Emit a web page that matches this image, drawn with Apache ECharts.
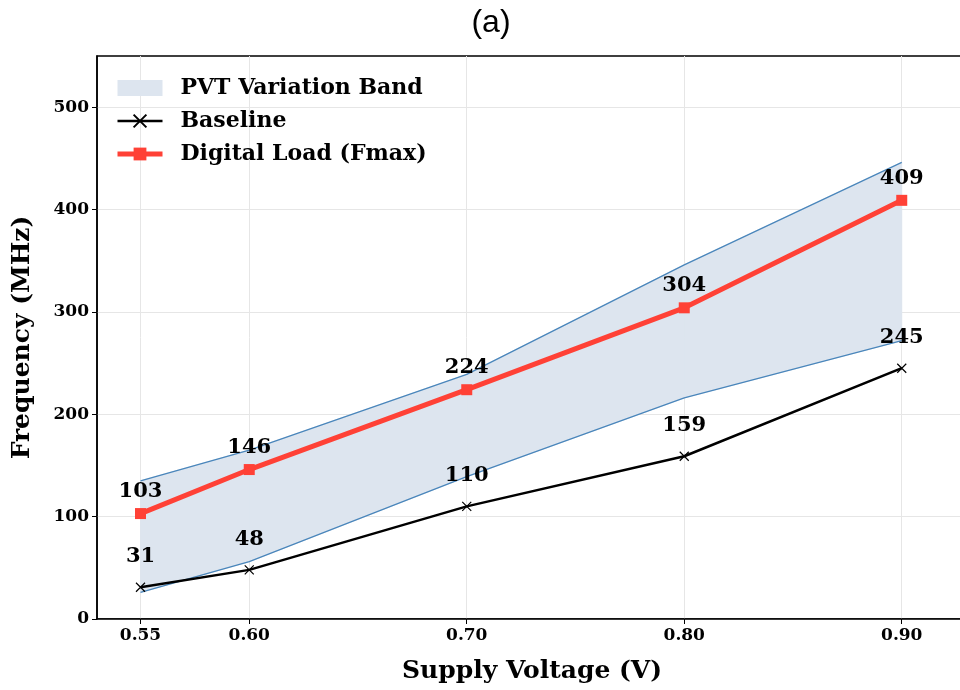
<!DOCTYPE html>
<html>
<head>
<meta charset="utf-8">
<script src="https://cdn.jsdelivr.net/npm/echarts@6/dist/echarts.min.js"></script>
<style>
  html, body { margin: 0; padding: 0; background: #fff; }
  #chart { width: 960px; height: 690px; }
</style>
</head>
<body>
<div id="chart"></div>
<script>
// supply voltage points (V)
var voltages = [0.55, 0.60, 0.70, 0.80, 0.90];
var baseline = [31, 48, 110, 159, 245];
var fmax = [103, 146, 224, 304, 409];
// PVT band edges
var bandLow = [26, 56, 139, 216, 272];
var bandHigh = [135, 165, 239, 346, 446];
var xTicks = [0.55, 0.60, 0.70, 0.80, 0.90];
var yTicks = [0, 100, 200, 300, 400, 500];

var serif = 'DejaVu Serif';
var bandLine = '#4a86bb';
var bandFill = '#dde5ef';

function pairs(ys) {
  var out = [];
  for (var i = 0; i < voltages.length; i++) {
    out.push([voltages[i], ys[i]]);
  }
  return out;
}

// one item per segment: [x0, low0, high0, x1, low1, high1]
var bandSegs = [];
for (var i = 0; i < voltages.length - 1; i++) {
  bandSegs.push([voltages[i], bandLow[i], bandHigh[i], voltages[i + 1], bandLow[i + 1], bandHigh[i + 1]]);
}

function renderBand(params, api) {
  var a = api.coord([api.value(0), api.value(1)]);
  var b = api.coord([api.value(0), api.value(2)]);
  var c = api.coord([api.value(3), api.value(5)]);
  var d = api.coord([api.value(3), api.value(4)]);
  return {
    type: 'polygon',
    shape: { points: [a, b, c, d] },
    style: { fill: bandFill, stroke: bandFill, lineWidth: 0.8 }
  };
}

var xMark = 'path://M0,0L10,10M10,0L0,10';

var myChart = echarts.init(document.getElementById('chart'));
var option = {
  backgroundColor: '#fff',
  animation: false,
  title: {
    text: '(a)',
    left: 486,
    top: 2,
    textAlign: 'center',
    textStyle: { fontFamily: 'Liberation Sans', fontSize: 32, fontWeight: 'normal', color: '#000' }
  },
  legend: {
    orient: 'vertical',
    left: 110,
    top: 72,
    itemWidth: 45,
    itemHeight: 16,
    itemGap: 11,
    textStyle: { fontFamily: serif, fontWeight: 'bold', fontSize: 22, color: '#000', padding: [0, 0, 0, 13] },
    data: [
      { name: 'PVT Variation Band', icon: 'rect', itemStyle: { color: bandFill, borderWidth: 0 } },
      { name: 'Baseline', lineStyle: { width: 2.5, color: '#000' } },
      { name: 'Digital Load (Fmax)', lineStyle: { width: 5, color: '#ff4136' } }
    ]
  },
  // right edge of the box falls just off the canvas, like the reference
  grid: {
    left: 97, right: -7, top: 56, bottom: 71, outerBoundsMode: 'none',
    show: true, borderColor: '#000', borderWidth: 1.5
  },
  xAxis: {
    type: 'value',
    min: 0.53,
    max: 0.93,
    name: 'Supply Voltage (V)',
    nameLocation: 'middle',
    nameGap: 40,
    nameTextStyle: { fontFamily: serif, fontWeight: 'bold', fontSize: 25, color: '#000' },
    axisLine: { onZero: false, lineStyle: { color: '#000', width: 1.5 } },
    axisTick: { show: true, customValues: xTicks, length: 5, lineStyle: { color: '#000' } },
    axisLabel: {
      customValues: xTicks,
      fontFamily: serif, fontWeight: 'bold', fontSize: 17, color: '#000', margin: 8,
      formatter: function (v) { return v.toFixed(2); }
    },
    splitLine: { show: true, lineStyle: { color: '#e6e6e6', width: 1 } }
  },
  yAxis: {
    type: 'value',
    min: 0,
    max: 550,
    interval: 100,
    name: 'Frequency (MHz)',
    nameLocation: 'middle',
    nameGap: 62,
    nameTextStyle: { fontFamily: serif, fontWeight: 'bold', fontSize: 25, color: '#000' },
    axisLine: { show: true, lineStyle: { color: '#000', width: 1.5 } },
    axisTick: { show: true, customValues: yTicks, length: 5, lineStyle: { color: '#000' } },
    axisLabel: {
      customValues: yTicks,
      fontFamily: serif, fontWeight: 'bold', fontSize: 17, color: '#000', margin: 8
    },
    splitLine: { show: true, lineStyle: { color: '#e6e6e6', width: 1 } }
  },
  series: [
    {
      name: 'PVT Variation Band',
      type: 'custom',
      renderItem: renderBand,
      data: bandSegs,
      itemStyle: { color: bandFill },
      encode: { x: [0, 3], y: [1, 2, 4, 5] },
      silent: true,
      z: 1
    },
    {
      name: 'bandLow',
      type: 'line',
      data: pairs(bandLow),
      symbol: 'none',
      lineStyle: { color: bandLine, width: 1.3 },
      z: 2
    },
    {
      name: 'bandHigh',
      type: 'line',
      data: pairs(bandHigh),
      symbol: 'none',
      lineStyle: { color: bandLine, width: 1.3 },
      z: 2
    },
    {
      name: 'Baseline',
      type: 'line',
      data: pairs(baseline),
      symbol: xMark,
      symbolSize: 9,
      lineStyle: { color: '#000', width: 2.5 },
      itemStyle: { color: '#000', borderColor: '#000', borderWidth: 1.2 },
      label: {
        show: true, position: 'top', distance: 15,
        fontFamily: serif, fontWeight: 'bold', fontSize: 21, color: '#000',
        formatter: function (p) { return p.value[1]; }
      },
      z: 3
    },
    {
      name: 'Digital Load (Fmax)',
      type: 'line',
      data: pairs(fmax),
      symbol: 'rect',
      symbolSize: 11,
      lineStyle: { color: '#ff4136', width: 5 },
      itemStyle: { color: '#ff4136' },
      label: {
        show: true, position: 'top', distance: 6,
        fontFamily: serif, fontWeight: 'bold', fontSize: 21, color: '#000',
        formatter: function (p) { return p.value[1]; }
      },
      z: 4
    }
  ]
};
myChart.setOption(option);
</script>
</body>
</html>
